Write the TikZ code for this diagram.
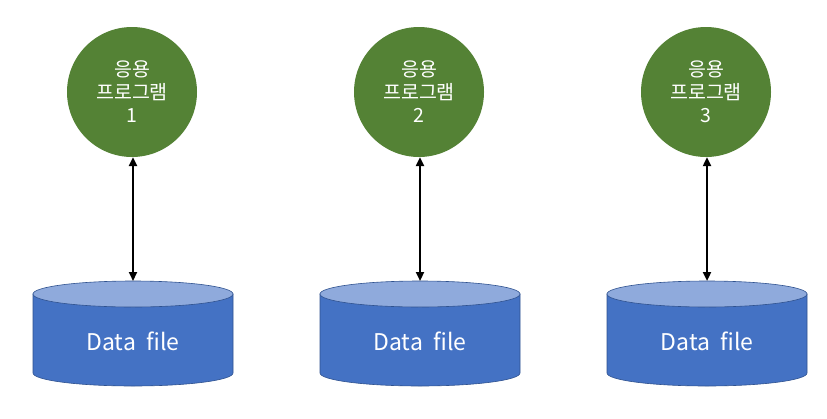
\documentclass[tikz,border=0pt]{standalone}
\usepackage{fontspec}
\setmainfont{Noto Sans CJK KR}
\usetikzlibrary{arrows.meta}
\definecolor{appgreen}{HTML}{548235}
\definecolor{cylblue}{HTML}{4472C4}
\definecolor{cyltop}{HTML}{8FAADC}
\definecolor{cyledge}{HTML}{2F528F}
\tikzset{
  app/.style={circle, fill=appgreen, minimum size=130pt, inner sep=0pt, text=white, align=center, font=\fontsize{19.5}{23}\selectfont},
  dlabel/.style={text=white, font=\fontsize{23}{26}\selectfont},
  link/.style={{Triangle[length=9pt,width=8pt]}-{Triangle[length=9pt,width=8pt]}, line width=2.2pt, black}
}
\newcommand{\datacyl}[2]{%
  \fill[cylblue, draw=cyledge, line width=0.6pt] (#1-100,294) -- (#1-100,373) arc[start angle=180, end angle=0, x radius=100, y radius=13] -- (#1+100,294) -- cycle;
  \fill[cyltop, draw=cyledge, line width=0.6pt] (#1,294) ellipse[x radius=100, y radius=13];
  \coordinate (#2top) at (#1,281);
  \node[dlabel] (#2lab) at (#1,341) {Data\hspace{0.45em}file};
}
\begin{document}
\begin{tikzpicture}[x=1pt,y=-1pt]
\useasboundingbox (0,0) rectangle (827,418);
\fill[white] (0,0) rectangle (827,418);
\node[app] (a1) at (132,92) {응용\\프로그램\\1};
\node[app] (a2) at (419,92) {응용\\프로그램\\2};
\node[app] (a3) at (706,92) {응용\\프로그램\\3};
\datacyl{133}{d1}
\datacyl{420}{d2}
\datacyl{707}{d3}
\draw[link] (a1.south -| d1top) -- (d1top);
\draw[link] (a2.south -| d2top) -- (d2top);
\draw[link] (a3.south -| d3top) -- (d3top);
\end{tikzpicture}
\end{document}
